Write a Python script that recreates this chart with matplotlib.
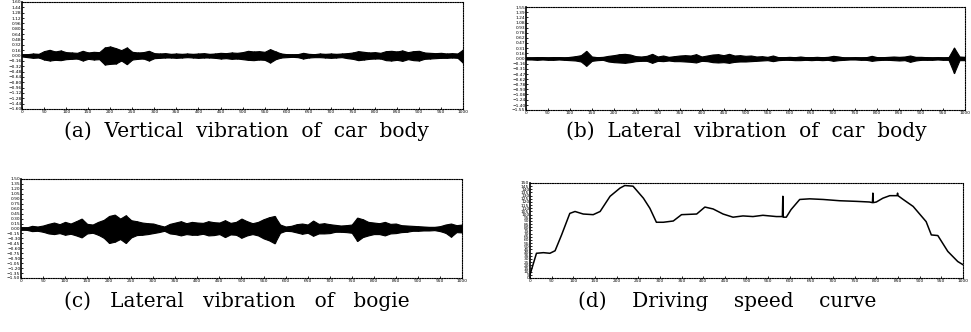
"""
Four-panel test record: body/bogie vibration traces and the driving speed curve.
Vibration traces are stored as upper/lower envelopes read off the record.
"""
import matplotlib

matplotlib.use("Agg")
import matplotlib.pyplot as plt  # noqa: E402
import numpy as np  # noqa: E402

# ---- data (time axis 0..1000 s, envelopes in m/s^2, speed in km/h) ----
T_END = 1000.0

vert_body_up = [0.03, 0.04, 0.06, 0.05, 0.13, 0.17, 0.12, 0.15, 0.10, 0.09,
                0.08, 0.14, 0.09, 0.11, 0.10, 0.24, 0.27, 0.22, 0.16, 0.24,
                0.11, 0.09, 0.10, 0.14, 0.07, 0.06, 0.07, 0.05, 0.06, 0.05,
                0.06, 0.05, 0.06, 0.07, 0.05, 0.06, 0.08, 0.07, 0.09, 0.08,
                0.10, 0.14, 0.12, 0.13, 0.11, 0.19, 0.12, 0.06, 0.04, 0.03,
                0.04, 0.08, 0.05, 0.04, 0.06, 0.05, 0.06, 0.05, 0.06, 0.07,
                0.09, 0.13, 0.11, 0.09, 0.10, 0.08, 0.13, 0.14, 0.12, 0.15,
                0.10, 0.13, 0.14, 0.09, 0.08, 0.07, 0.08, 0.06, 0.07, 0.06,
                0.18]
vert_body_dn = [0.03, 0.05, 0.07, 0.06, 0.12, 0.15, 0.13, 0.14, 0.11, 0.10,
                0.09, 0.15, 0.10, 0.12, 0.11, 0.27, 0.25, 0.24, 0.15, 0.26,
                0.12, 0.10, 0.09, 0.15, 0.08, 0.07, 0.06, 0.06, 0.07, 0.06,
                0.05, 0.06, 0.07, 0.06, 0.06, 0.07, 0.09, 0.08, 0.10, 0.09,
                0.11, 0.13, 0.14, 0.12, 0.13, 0.21, 0.11, 0.06, 0.05, 0.04,
                0.05, 0.09, 0.06, 0.05, 0.05, 0.06, 0.07, 0.06, 0.05, 0.08,
                0.10, 0.14, 0.12, 0.10, 0.09, 0.09, 0.14, 0.15, 0.13, 0.16,
                0.11, 0.14, 0.15, 0.10, 0.09, 0.08, 0.07, 0.07, 0.06, 0.07,
                0.22]

lat_body_up = [0.03, 0.03, 0.04, 0.04, 0.03, 0.04, 0.04, 0.03, 0.05, 0.07,
               0.10, 0.23, 0.06, 0.04, 0.05, 0.08, 0.10, 0.13, 0.14, 0.12,
               0.07, 0.06, 0.08, 0.14, 0.06, 0.09, 0.05, 0.07, 0.09, 0.10,
               0.09, 0.13, 0.06, 0.09, 0.12, 0.13, 0.10, 0.14, 0.09, 0.10,
               0.08, 0.09, 0.06, 0.07, 0.05, 0.09, 0.04, 0.04, 0.05, 0.04,
               0.06, 0.04, 0.04, 0.05, 0.04, 0.05, 0.08, 0.06, 0.03, 0.03,
               0.04, 0.03, 0.04, 0.08, 0.04, 0.04, 0.05, 0.06, 0.05, 0.06,
               0.09, 0.05, 0.05, 0.04, 0.03, 0.04, 0.03, 0.04, 0.33, 0.06,
               0.05]
lat_body_dn = [0.03, 0.03, 0.04, 0.03, 0.04, 0.04, 0.03, 0.04, 0.05, 0.06,
               0.09, 0.22, 0.07, 0.05, 0.04, 0.09, 0.11, 0.12, 0.13, 0.11,
               0.08, 0.07, 0.07, 0.13, 0.07, 0.08, 0.06, 0.08, 0.08, 0.09,
               0.10, 0.12, 0.07, 0.08, 0.11, 0.12, 0.11, 0.13, 0.10, 0.09,
               0.09, 0.08, 0.07, 0.06, 0.05, 0.08, 0.05, 0.04, 0.04, 0.05,
               0.05, 0.04, 0.05, 0.04, 0.05, 0.04, 0.07, 0.05, 0.04, 0.03,
               0.03, 0.04, 0.04, 0.07, 0.05, 0.04, 0.04, 0.05, 0.06, 0.05,
               0.10, 0.06, 0.04, 0.04, 0.04, 0.03, 0.04, 0.04, 0.44, 0.05,
               0.05]

lat_bogie_up = [0.04, 0.03, 0.08, 0.06, 0.09, 0.14, 0.18, 0.13, 0.20, 0.15,
                0.22, 0.30, 0.14, 0.12, 0.20, 0.26, 0.38, 0.42, 0.30, 0.40,
                0.25, 0.22, 0.18, 0.16, 0.15, 0.10, 0.06, 0.14, 0.18, 0.22,
                0.16, 0.20, 0.18, 0.17, 0.22, 0.19, 0.18, 0.25, 0.17, 0.20,
                0.30, 0.22, 0.16, 0.20, 0.28, 0.34, 0.38, 0.12, 0.06, 0.08,
                0.13, 0.15, 0.12, 0.24, 0.14, 0.16, 0.13, 0.11, 0.09, 0.10,
                0.12, 0.33, 0.28, 0.20, 0.18, 0.16, 0.20, 0.14, 0.15, 0.10,
                0.09, 0.08, 0.07, 0.06, 0.05, 0.05, 0.07, 0.12, 0.15, 0.10,
                0.12]
lat_bogie_dn = [0.04, 0.04, 0.08, 0.07, 0.10, 0.15, 0.17, 0.14, 0.19, 0.16,
                0.21, 0.27, 0.15, 0.13, 0.19, 0.28, 0.44, 0.40, 0.32, 0.44,
                0.27, 0.20, 0.19, 0.17, 0.14, 0.11, 0.07, 0.15, 0.17, 0.21,
                0.17, 0.19, 0.19, 0.16, 0.21, 0.20, 0.17, 0.26, 0.18, 0.19,
                0.28, 0.21, 0.17, 0.21, 0.30, 0.36, 0.45, 0.13, 0.07, 0.08,
                0.12, 0.16, 0.13, 0.22, 0.15, 0.15, 0.14, 0.10, 0.10, 0.11,
                0.13, 0.38, 0.26, 0.21, 0.17, 0.17, 0.21, 0.15, 0.14, 0.11,
                0.10, 0.07, 0.07, 0.06, 0.06, 0.05, 0.08, 0.13, 0.25, 0.11,
                0.12]

speed_t = [0, 15, 31, 46, 58, 73, 92, 104, 123, 146,
           162, 185, 208, 219, 238, 262, 277, 292, 308, 331,
           350, 385, 404, 423, 446, 469, 492, 515, 538, 569,
           583, 584, 585, 592, 603, 623, 646, 677, 715, 754,
           784, 791, 792, 793, 800, 815, 831, 848, 849, 850,
           862, 885, 915, 927, 942, 965, 988, 1000]
speed_v = [5, 39, 40, 39, 43, 68, 102, 105, 101, 100,
           105, 129, 142, 146, 145, 126, 110, 88, 88, 90,
           100, 101, 112, 109, 101, 96, 98, 97, 99, 97,
           97, 129, 96, 96, 108, 124, 125, 124, 122, 121,
           120, 119, 134, 119, 120, 126, 130, 130, 134, 130,
           124, 113, 89, 68, 67, 42, 26, 21]

captions = [
    ["(a)", "Vertical", "vibration", "of", "car", "body"],
    ["(b)", "Lateral", "vibration", "of", "car", "body"],
    ["(c)", "Lateral", "vibration", "of", "bogie"],
    ["(d)", "Driving", "speed", "curve"],
]

# axes rects, caption centres and word gaps (in spaces) per panel
rects = [[0.0227, 0.6717, 0.4542, 0.3223],
         [0.5417, 0.6687, 0.4521, 0.3102],
         [0.0216, 0.1627, 0.4542, 0.2982],
         [0.5458, 0.1627, 0.4459, 0.2861]]
cap_xy = [(0.254, 0.606), (0.769, 0.606), (0.2435, 0.094), (0.749, 0.094)]
gaps = [2, 2, 3, 4]


def _style(ax, yticks):
    """Dotted frame, solid left axis, tiny crowded tick labels."""
    for side in ("top", "right", "bottom"):
        ax.spines[side].set_linestyle((0, (1, 1.2)))
        ax.spines[side].set_linewidth(0.8)
    ax.spines["left"].set_linewidth(1.2)
    ax.set_xlim(0, T_END)
    ax.set_xticks(np.arange(0, T_END + 1, 50))
    ax.set_yticks(yticks)
    ax.tick_params(axis="both", direction="in", length=1.5, width=0.6,
                   labelsize=3.2, pad=0.5)
    ax.set_xticklabels([f"{v:.0f}" for v in ax.get_xticks()])


def _trace(ax, up, dn, lim):
    t = np.linspace(0, T_END, len(up))
    ax.fill_between(t, up, -np.asarray(dn), color="black", lw=0.8)
    ax.vlines(t, -np.asarray(dn), up, color="black", lw=1.0)
    ax.plot(t, np.zeros_like(t), color="black", lw=1.2)
    ax.set_ylim(-lim, lim)
    _style(ax, np.round(np.linspace(-lim, lim, 21), 2))


fig = plt.figure(figsize=(9.71, 3.32), dpi=100)
axes = [fig.add_axes(r) for r in rects]

_trace(axes[0], vert_body_up, vert_body_dn, 1.6)
_trace(axes[1], lat_body_up, lat_body_dn, 1.55)
_trace(axes[2], lat_bogie_up, lat_bogie_dn, 1.5)

ax = axes[3]
ax.plot(speed_t, speed_v, color="black", lw=1.1)
ax.set_ylim(0, 150)
_style(ax, np.arange(0, 151, 5))

for words, (cx, cy), g in zip(captions, cap_xy, gaps):
    fig.text(cx, cy, (" " * g).join(words), ha="center", va="center",
             family="DejaVu Serif", fontsize=14.5)

fig.savefig("out.png", dpi=100)
